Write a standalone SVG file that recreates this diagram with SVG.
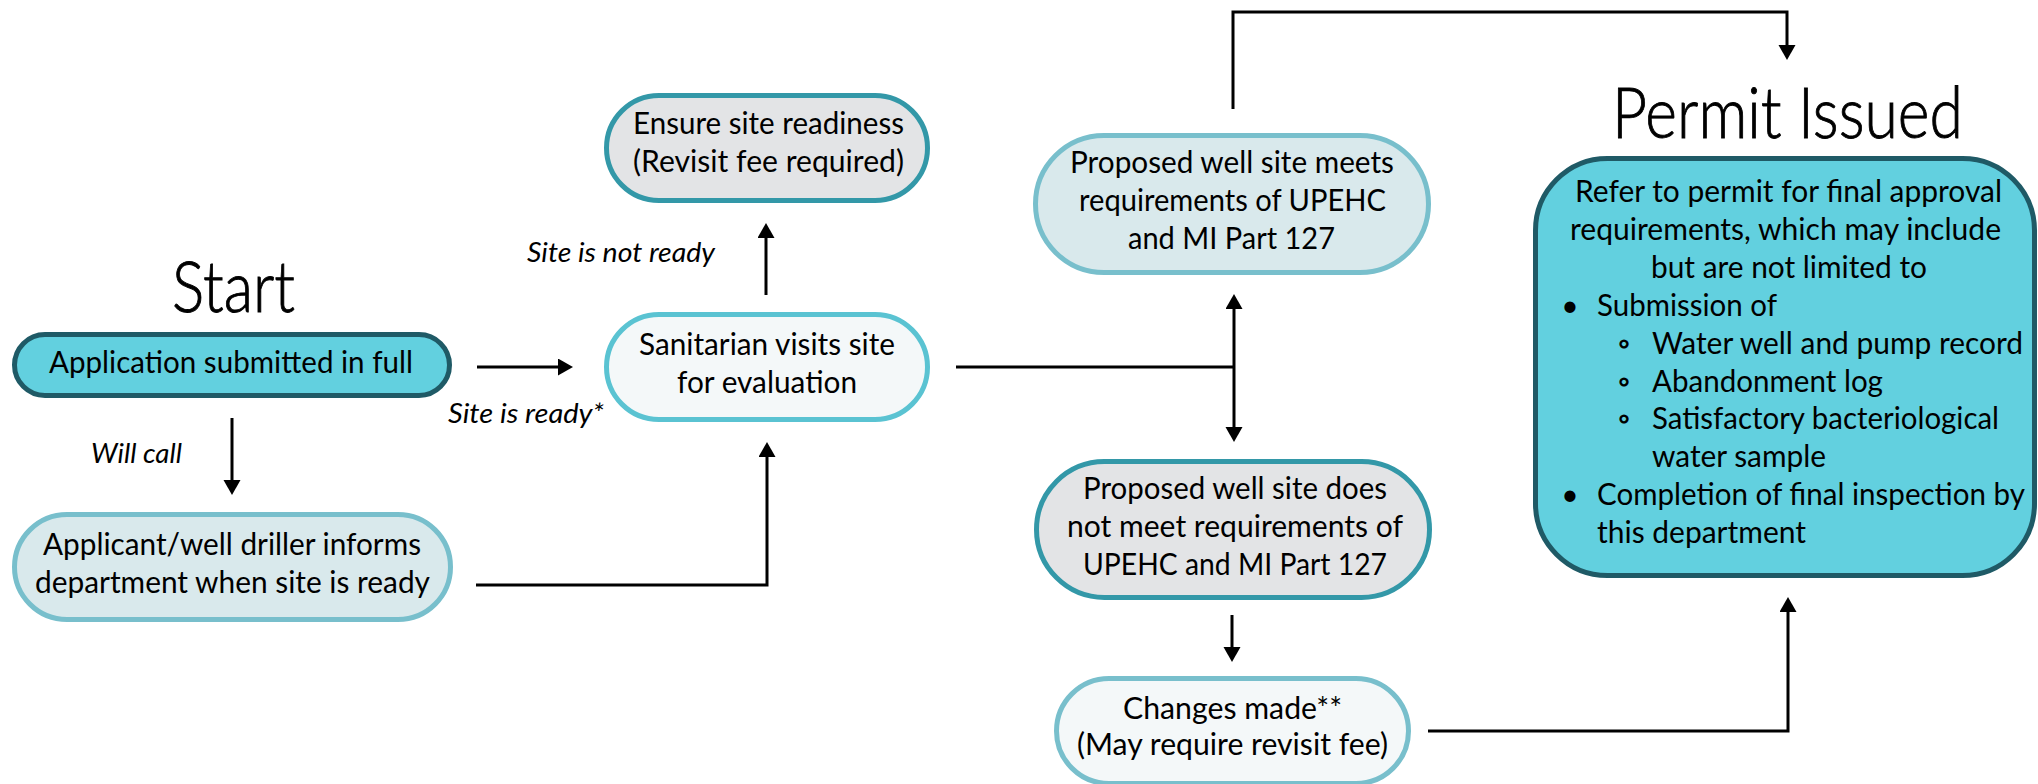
<svg xmlns="http://www.w3.org/2000/svg" width="2038" height="784" viewBox="0 0 2038 784">
<defs>
<style>
.box{stroke-width:5}
.c1{fill:#62d0df;stroke:#1f5a66}
.c2{fill:#d9e9ec;stroke:#78bfcc}
.c3{fill:#e3e4e6;stroke:#3398a8}
.c4{fill:#f4f8f9;stroke:#5ac3d2}
.c5{fill:#f4f8f9;stroke:#78bfcc}
text{font-family:Lato,"Liberation Sans",sans-serif;fill:#000}
.t{font-size:30px;text-anchor:middle}
.tl{font-size:30px}
.b2{font-size:30px;text-anchor:middle;font-weight:700}
.lbl{font-size:27px;font-style:italic}
.title{font-size:70px;font-weight:300;text-anchor:middle;stroke:#000;stroke-width:0.9}
.con{fill:none;stroke:#000;stroke-width:3}
.arr{marker-end:url(#ah)}
</style>
<marker id="ah" markerUnits="userSpaceOnUse" markerWidth="18" markerHeight="18" refX="5" refY="8.5" orient="auto">
<path d="M0,0 L15,8.5 L0,17 z" fill="#000"/>
</marker>
</defs>

<text class="title" x="233.5" y="312" textLength="123" lengthAdjust="spacingAndGlyphs">Start</text>
<text class="title" x="1787.5" y="138" textLength="351" lengthAdjust="spacingAndGlyphs">Permit Issued</text>

<g id="connectors">
<path class="con arr" d="M477,367 H563"/>
<path class="con arr" d="M232,418 V485"/>
<path class="con arr" d="M476,585 H767 V452"/>
<path class="con arr" d="M766,295 V233"/>
<path class="con" d="M956,367 H1234"/>
<path class="con arr" d="M1234,367 V304"/>
<path class="con arr" d="M1234,367 V432"/>
<path class="con arr" d="M1233,109 V12 H1787 V50"/>
<path class="con arr" d="M1232,615 V652"/>
<path class="con arr" d="M1428,731 H1788 V607"/>
<text class="lbl" x="448" y="423" textLength="156" lengthAdjust="spacingAndGlyphs">Site is ready*</text>
<text class="lbl" x="91" y="463" textLength="91" lengthAdjust="spacingAndGlyphs">Will call</text>
<text class="lbl" x="527" y="262" textLength="188" lengthAdjust="spacingAndGlyphs">Site is not ready</text>
</g>

<g id="n-application">
<rect class="box c1" x="14.5" y="334.5" width="435" height="61" rx="30.5"/>
<text class="t" x="231" y="373" textLength="364" lengthAdjust="spacingAndGlyphs">Application submitted in full</text>
</g>

<g id="n-applicant">
<rect class="box c2" x="14.5" y="514.5" width="436" height="105" rx="52.5"/>
<text class="t" x="232" y="555" textLength="378" lengthAdjust="spacingAndGlyphs">Applicant/well driller informs</text>
<text class="t" x="232.5" y="593" textLength="395" lengthAdjust="spacingAndGlyphs">department when site is ready</text>
</g>

<g id="n-ensure">
<rect class="box c3" x="606.5" y="95.5" width="321" height="105" rx="52.5"/>
<text class="t" x="768.5" y="134" textLength="271" lengthAdjust="spacingAndGlyphs">Ensure site readiness</text>
<text class="t" x="768.5" y="172" textLength="271" lengthAdjust="spacingAndGlyphs">(Revisit fee required)</text>
</g>

<g id="n-sanitarian">
<rect class="box c4" x="606.5" y="314.5" width="321" height="105" rx="52.5"/>
<text class="t" x="767" y="355" textLength="256" lengthAdjust="spacingAndGlyphs">Sanitarian visits site</text>
<text class="t" x="767" y="393" textLength="180" lengthAdjust="spacingAndGlyphs">for evaluation</text>
</g>

<g id="n-meets">
<rect class="box c2" x="1035.5" y="135.5" width="393" height="137" rx="68.5"/>
<text class="t" x="1232" y="173" textLength="324" lengthAdjust="spacingAndGlyphs">Proposed well site meets</text>
<text class="t" x="1232.5" y="211" textLength="307" lengthAdjust="spacingAndGlyphs">requirements of UPEHC</text>
<text class="t" x="1231.5" y="249" textLength="207" lengthAdjust="spacingAndGlyphs">and MI Part 127</text>
</g>

<g id="n-notmeet">
<rect class="box c3" x="1036.5" y="461.5" width="393" height="136" rx="68"/>
<text class="t" x="1235" y="499" textLength="304" lengthAdjust="spacingAndGlyphs">Proposed well site does</text>
<text class="t" x="1235" y="537" textLength="336" lengthAdjust="spacingAndGlyphs">not meet requirements of</text>
<text class="t" x="1235" y="575" textLength="304" lengthAdjust="spacingAndGlyphs">UPEHC and MI Part 127</text>
</g>

<g id="n-changes">
<rect class="box c5" x="1056.5" y="678.5" width="352" height="105" rx="52.5"/>
<text class="t" x="1232.5" y="719" textLength="219" lengthAdjust="spacingAndGlyphs">Changes made**</text>
<text class="t" x="1232.5" y="755" textLength="311" lengthAdjust="spacingAndGlyphs">(May require revisit fee)</text>
</g>

<g id="n-permit">
<rect class="box c1" x="1535.5" y="158.5" width="499" height="417" rx="72"/>
<text class="t" x="1788.5" y="202" textLength="427" lengthAdjust="spacingAndGlyphs">Refer to permit for final approval</text>
<text class="t" x="1785.5" y="240" textLength="431" lengthAdjust="spacingAndGlyphs">requirements, which may include</text>
<text class="t" x="1789" y="278" textLength="276" lengthAdjust="spacingAndGlyphs">but are not limited to</text>
<text class="t" x="1570" y="316">•</text>
<text class="tl" x="1597" y="316" textLength="180" lengthAdjust="spacingAndGlyphs">Submission of</text>
<text class="b2" x="1624" y="354">◦</text>
<text class="tl" x="1652" y="354" textLength="371" lengthAdjust="spacingAndGlyphs">Water well and pump record</text>
<text class="b2" x="1624" y="392">◦</text>
<text class="tl" x="1652" y="392" textLength="231" lengthAdjust="spacingAndGlyphs">Abandonment log</text>
<text class="b2" x="1624" y="429">◦</text>
<text class="tl" x="1652" y="429" textLength="347" lengthAdjust="spacingAndGlyphs">Satisfactory bacteriological</text>
<text class="tl" x="1652" y="467" textLength="174" lengthAdjust="spacingAndGlyphs">water sample</text>
<text class="t" x="1570" y="505">•</text>
<text class="tl" x="1597" y="505" textLength="428" lengthAdjust="spacingAndGlyphs">Completion of final inspection by</text>
<text class="tl" x="1597" y="543" textLength="209" lengthAdjust="spacingAndGlyphs">this department</text>
</g>
</svg>
